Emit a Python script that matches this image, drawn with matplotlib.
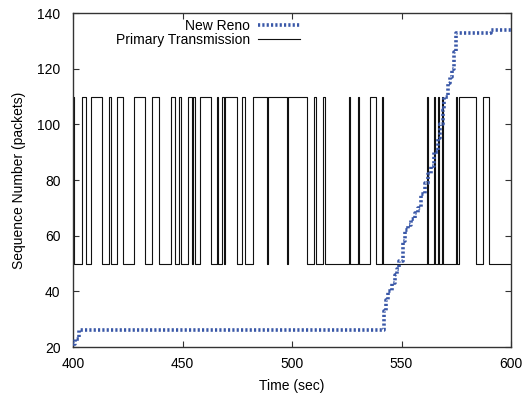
import matplotlib
matplotlib.use("Agg")
import matplotlib.pyplot as plt

plt.rcParams['font.family'] = ['Liberation Sans', 'DejaVu Sans']

# New Reno sequence number steps (time in sec, packets)
reno_t = [400, 401, 402.5, 542, 543, 544, 545.5, 547, 548, 549, 550.5, 551.5,
          553, 554.5, 556, 557.5, 559, 560.5, 562, 563.5, 565, 566.5, 567.5,
          569, 569.5, 571, 572, 573, 574, 575, 591, 600]
reno_seq = [21, 23, 26, 33, 37, 40, 43, 46, 48, 51, 58, 62,
            64, 66, 68, 70, 75, 79, 82, 85, 90, 95, 100,
            105, 110, 115, 117, 120, 126, 133, 134, 134]

# Primary transmission: intervals where the value is high
high_start = [400.0, 404.25, 408.08, 416.44, 420.23, 427.85, 435.94, 444.75,
              448.54, 452.65, 454.93, 457.99, 465.62, 468.17, 469.54, 477.31,
              482.33, 488.95, 498.0, 510.18, 514.29, 526.03, 530.0, 535.62,
              541.1, 561.51, 564.84, 566.8, 568.49, 574.75, 576.26, 587.35]
high_end = [400.6, 405.94, 413.38, 417.21, 422.97, 432.88, 439.27, 446.58,
            449.32, 454.2, 455.71, 462.88, 466.21, 468.72, 475.02, 478.54,
            488.49, 497.5, 506.71, 510.96, 514.84, 526.48, 530.46, 538.36,
            541.55, 561.87, 565.3, 567.12, 568.95, 575.11, 583.88, 589.95]
low_val, high_val = 50, 110

pt_t = [400.0]
pt_v = [high_val if high_start[0] <= 400.0 else low_val]
for s, e in zip(high_start, high_end):
    if s > 400.0:
        pt_t += [s, s]
        pt_v += [low_val, high_val]
    pt_t += [e, e]
    pt_v += [high_val, low_val]
pt_t.append(600)
pt_v.append(low_val)

fig = plt.figure(figsize=(5.26, 3.95), dpi=100)
ax = fig.add_axes([0.139, 0.1215, 0.8325, 0.8455])

ax.plot(reno_t, reno_seq, drawstyle='steps-post', color='#3a58a8', lw=2.6,
        linestyle=(0, (0.6, 0.6)), label='New Reno', zorder=3)
ax.plot(pt_t, pt_v, color='#111111', lw=0.8, label='Primary Transmission', zorder=2)

ax.set_xlim(400, 600)
ax.set_ylim(20, 140)
ax.set_xticks([400, 450, 500, 550, 600])
ax.set_yticks([20, 40, 60, 80, 100, 120, 140])
ax.tick_params(direction='in', top=True, right=True, length=4, width=0.8,
               labelsize=10, colors='#333333', labelcolor='black')
ax.tick_params(axis='x', pad=7)
ax.tick_params(axis='y', pad=9)
for sp in ax.spines.values():
    sp.set_color('#333333')
    sp.set_linewidth(1.0)
ax.set_xlabel('Time (sec)', fontsize=10, labelpad=6)
ax.set_ylabel('Sequence Number (packets)', fontsize=10, labelpad=8)

ax.legend(loc='upper right', bbox_to_anchor=(0.53, 1.0), frameon=False,
          markerfirst=False, fontsize=10, handlelength=3.0,
          borderaxespad=0.0, labelspacing=0.05, handletextpad=0.6)

fig.savefig('out.png', dpi=100)
